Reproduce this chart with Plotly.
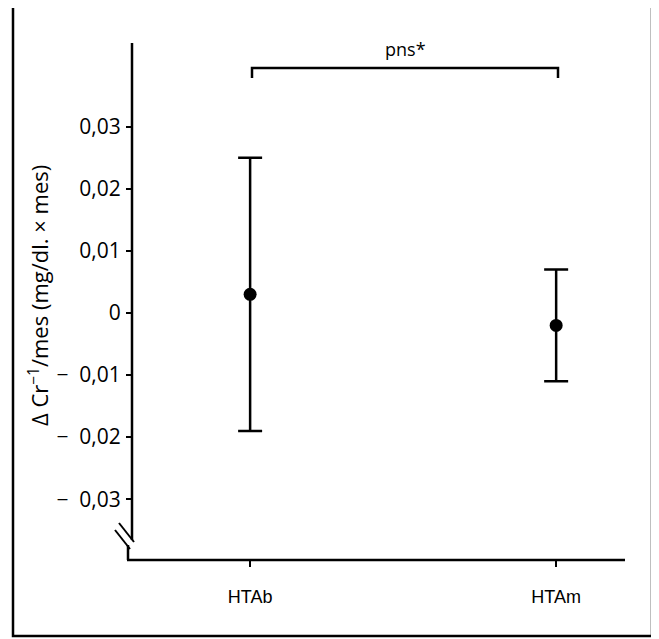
import plotly.graph_objects as go

# ---- data ----
categories = ["HTAb", "HTAm"]
means = [0.003, -0.002]
errors = [0.022, 0.009]
tick_values = [0.03, 0.02, 0.01, 0, -0.01, -0.02, -0.03]
tick_labels = ["0,03", "0,02", "0,01", "0", "−\u00a0\u00a00,01", "−\u00a0\u00a00,02", "−\u00a0\u00a00,03"]
bracket_label = "pns*"
y_title = "Δ Cr<sup>−1</sup>/mes (mg/dl. × mes)"

O = 8  # page body margin offset
W, H = 659 - O, 639 - O
L, R, T, B = 132 - O, 625 - O, 43 - O, 560 - O  # plot area in figure pixels
xr = [-0.386, 1.225]
yr = [-0.0398, 0.0435]

def px(xp):  # screen pixel -> paper
    return (xp - O - L) / (R - L)

def py(yp):
    return (B - (yp - O)) / (B - T)

x_pos = list(range(len(categories)))

fig = go.Figure()
fig.add_trace(go.Scatter(
    x=x_pos, y=means, mode="markers",
    marker=dict(color="black", size=13),
    error_y=dict(type="data", array=errors, visible=True, color="black",
                 thickness=2.5, width=12),
    showlegend=False, hoverinfo="skip",
))

fig.update_layout(
    width=W, height=H,
    margin=dict(l=L, r=W - R, t=T, b=H - B, pad=0),
    paper_bgcolor="white", plot_bgcolor="white",
    font=dict(family="Open Sans, sans-serif", color="black", size=18),
    xaxis=dict(range=xr, tickvals=x_pos, ticktext=categories, showgrid=False,
               zeroline=False, showline=False, ticks="outside", ticklen=6,
               tickwidth=2, tickcolor="black",
               tickfont=dict(family="Liberation Sans, Arial, sans-serif", size=18),
               ticklabelstandoff=14),
    yaxis=dict(range=yr, tickvals=tick_values, ticktext=tick_labels,
               showgrid=False, zeroline=False, showline=False,
               ticks="outside", ticklen=5, tickwidth=2, tickcolor="black",
               tickfont=dict(family="Open Sans, sans-serif", size=21),
               ticklabelstandoff=1),
)

# y axis title
fig.add_annotation(xref="paper", yref="paper", x=px(38), y=py(296),
                   text=y_title, textangle=-90, showarrow=False,
                   font=dict(family="Open Sans, sans-serif", size=22),
                   xanchor="center", yanchor="middle")

line = dict(color="black", width=2.5)
# y axis line (top to break) and short segment to x axis
fig.add_shape(type="line", xref="paper", yref="paper",
              x0=px(132), x1=px(132), y0=py(43), y1=py(540), line=line)
fig.add_shape(type="line", xref="paper", yref="paper",
              x0=px(128), x1=px(128), y0=py(545), y1=py(560), line=line)
# x axis line
fig.add_shape(type="line", xref="paper", yref="paper",
              x0=px(127), x1=px(625), y0=py(560), y1=py(560), line=line)
# break marks
for (x0, y0, x1, y1) in [(119, 523, 134, 542), (115, 530, 130, 549)]:
    fig.add_shape(type="line", xref="paper", yref="paper",
                  x0=px(x0), x1=px(x1), y0=py(y0), y1=py(y1),
                  line=dict(color="black", width=2))
# significance bracket
fig.add_shape(type="path", xref="paper", yref="paper",
              path="M {a},{b} L {a},{c} L {d},{c} L {d},{b}".format(
                  a=px(252), b=py(78), c=py(68), d=px(558)),
              line=dict(color="black", width=2.5))
fig.add_annotation(xref="paper", yref="paper", x=px(405), y=py(49),
                   text=bracket_label, showarrow=False,
                   font=dict(family="Open Sans, sans-serif", size=18),
                   xanchor="center", yanchor="middle")
# outer frame
fig.add_shape(type="rect", xref="paper", yref="paper",
              x0=px(13), x1=px(652), y0=py(636), y1=py(6),
              line=dict(color="black", width=2.5))

fig.write_html("out.html")
